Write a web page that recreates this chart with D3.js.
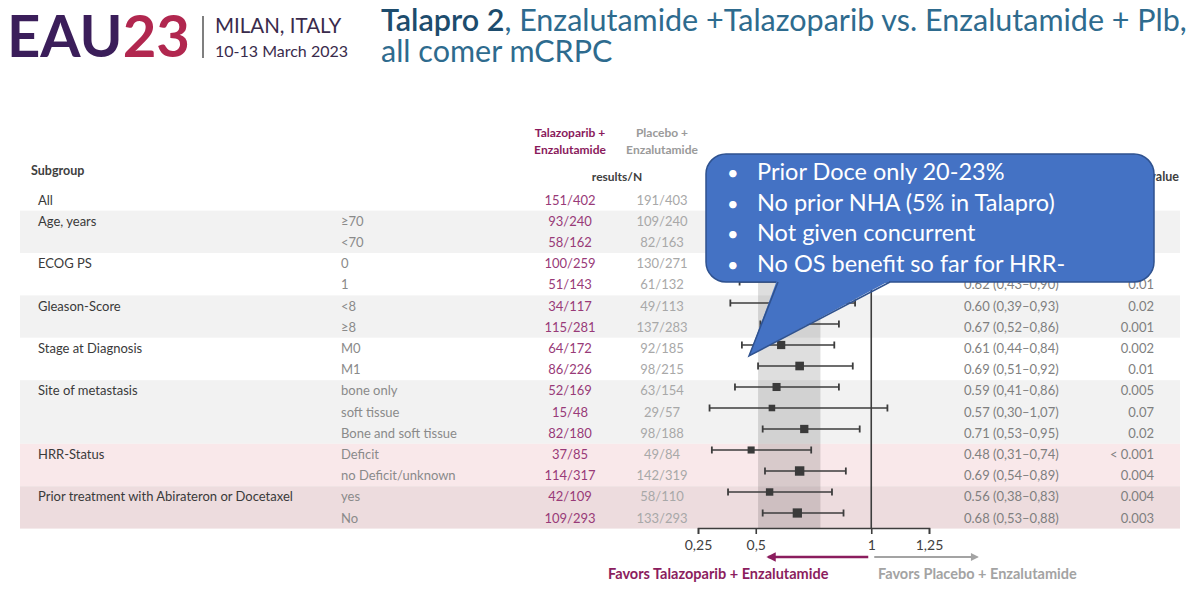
<!DOCTYPE html>
<html><head><meta charset="utf-8">
<script src="https://cdn.jsdelivr.net/npm/d3@7"></script>
<style>
html,body{margin:0;padding:0;background:#fff;}
svg{display:block;font-family:Lato,"Open Sans",sans-serif;}
</style></head>
<body>
<svg id="c" width="1200" height="597"></svg>
<script>
// ---------- data ----------
const groupLabels = ["All","Age, years","","ECOG PS","","Gleason-Score","","Stage at Diagnosis","","Site of metastasis","","","HRR-Status","","Prior treatment with Abirateron or Docetaxel",""];
const subLabels = ["","≥70","<70","0","1","<8","≥8","M0","M1","bone only","soft tissue","Bone and soft tissue","Deficit","no Deficit/unknown","yes","No"];
const talaEvents = [151,93,58,100,51,34,115,64,86,52,15,82,37,114,42,109];
const talaN = [402,240,162,259,143,117,281,172,226,169,48,180,85,317,109,293];
const plbEvents = [191,109,82,130,61,49,137,92,98,63,29,98,49,142,58,133];
const plbN = [403,240,163,271,132,113,283,185,215,154,57,188,84,319,110,293];
const hr = [0.63,0.76,0.51,0.63,0.62,0.60,0.67,0.61,0.69,0.59,0.57,0.71,0.48,0.69,0.56,0.68];
const ciLow = [0.51,0.58,0.36,0.49,0.43,0.39,0.52,0.44,0.51,0.41,0.30,0.53,0.31,0.54,0.38,0.53];
const ciHigh = [0.78,0.99,0.71,0.81,0.90,0.93,0.86,0.84,0.92,0.86,1.07,0.95,0.74,0.89,0.83,0.88];
const pValues = ["< 0.001","0.04","< 0.001","< 0.001","0.01","0.02","0.001","0.002","0.01","0.005","0.07","0.02","< 0.001","0.004","0.004","0.003"];
const rowGroup = [0,1,1,2,2,3,3,4,4,5,5,5,6,6,7,7];
const groupColors = ["#ffffff","#f2f2f2","#ffffff","#f2f2f2","#ffffff","#f2f2f2","#f9e8ea","#eddcde"];
const overallCI = [0.51,0.78];
const axisTicks = [0.25,0.5,1,1.25];
const calloutLines = ["Prior Doce only 20-23%","No prior NHA (5% in Talapro)","Not given concurrent","No OS benefit so far for HRR-"];

// ---------- setup ----------
const svg = d3.select("#c");
const idx = d3.range(talaN.length);
const yText = d3.scalePoint().domain(idx).range([200,518]);
const yMark = d3.scalePoint().domain(idx).range([198,513]);
const step = yText.step();
const x = d3.scaleLinear().domain([0.25,1.25]).range([698,929]);
const comma = v => String(v).replace(".", ",");
const f2 = v => v.toFixed(2);

// ---------- header: logo ----------
const logo = svg.append("g");
const eau = logo.append("text").attr("x",7).attr("y",57).attr("font-size",58).attr("font-weight",700)
  .attr("font-family","Lato, sans-serif");
eau.append("tspan").attr("fill","#3b1e5a").text("EAU");
eau.append("tspan").attr("fill","#b1274f").text("23");
logo.append("line").attr("x1",203).attr("x2",203).attr("y1",16).attr("y2",58).attr("stroke","#555").attr("stroke-width",1.5);
logo.append("text").attr("x",215).attr("y",33).attr("font-size",20.5).attr("fill","#3a2b4c").text("MILAN, ITALY");
logo.append("text").attr("x",215).attr("y",57).attr("font-size",16).attr("fill","#3a2b4c").text("10-13 March 2023");

// ---------- title ----------
const t1 = svg.append("text").attr("x",381).attr("y",31).attr("font-size",30.5);
t1.append("tspan").attr("fill","#1d4c6d").attr("font-weight",600).text("Talapro 2");
t1.append("tspan").attr("fill","#2e6b8e").text(", Enzalutamide +Talazoparib vs. Enzalutamide + Plb,");
svg.append("text").attr("x",381).attr("y",62).attr("font-size",30.5).attr("fill","#2e6b8e").text("all comer mCRPC");

// ---------- row bands ----------
const groups = d3.groups(idx, i => rowGroup[i]);
svg.append("g").selectAll("rect").data(groups).join("rect")
  .attr("x",20).attr("width",1160)
  .attr("y", d => yText(d[1][0]) - step/2)
  .attr("height", d => d[1].length*step)
  .attr("fill", d => groupColors[d[0]]);

// ---------- column headers ----------
const hdr = svg.append("g").attr("font-size",12).attr("font-weight",700).attr("text-anchor","middle");
hdr.append("text").attr("x",570).attr("y",137).attr("fill","#8a1a5c").text("Talazoparib +");
hdr.append("text").attr("x",570).attr("y",154).attr("fill","#8a1a5c").text("Enzalutamide");
hdr.append("text").attr("x",662).attr("y",137).attr("fill","#9a9a9a").text("Placebo +");
hdr.append("text").attr("x",662).attr("y",154).attr("fill","#9a9a9a").text("Enzalutamide");
hdr.append("text").attr("x",617).attr("y",181).attr("fill","#404040").text("results/N");
svg.append("text").attr("x",31).attr("y",175).attr("font-size",12.5).attr("font-weight",700).attr("fill","#404040").text("Subgroup");
svg.append("text").attr("x",964).attr("y",181).attr("font-size",12.5).attr("font-weight",700).attr("fill","#404040").text("HR (95% CI)");
svg.append("text").attr("x",1179).attr("y",181).attr("font-size",12.5).attr("font-weight",700).attr("text-anchor","end").attr("fill","#404040").text("P value");

// ---------- table text ----------
const rows = svg.append("g").selectAll("g").data(idx).join("g")
  .attr("transform", i => `translate(0,${yText(i)})`).attr("font-size",13);
rows.append("text").attr("x",38).attr("dy","0.35em").attr("fill","#3a3a3a").text(i => groupLabels[i]);
rows.append("text").attr("x",341).attr("dy","0.35em").attr("fill","#8a8a8a").text(i => subLabels[i]);
rows.append("text").attr("x",570).attr("dy","0.35em").attr("text-anchor","middle").attr("fill","#983a78")
  .text(i => `${talaEvents[i]}/${talaN[i]}`);
rows.append("text").attr("x",662).attr("dy","0.35em").attr("text-anchor","middle").attr("fill","#a8a8a8")
  .text(i => `${plbEvents[i]}/${plbN[i]}`);
rows.append("text").attr("x",964).attr("dy","0.35em").attr("fill","#7f7f7f")
  .text(i => `${f2(hr[i])} (${comma(f2(ciLow[i]))}\u2013${comma(f2(ciHigh[i]))})`);
rows.append("text").attr("x",1154).attr("dy","0.35em").attr("text-anchor","end").attr("fill","#7f7f7f")
  .text(i => pValues[i]);

// ---------- forest ----------
const yTop = yText(0) - step/2, yBottom = 528;
svg.append("rect").attr("x",x(overallCI[0])).attr("width",x(overallCI[1])-x(overallCI[0]))
  .attr("y",yTop).attr("height",yBottom-yTop).attr("fill","#000").attr("fill-opacity",0.13);
svg.append("line").attr("x1",x(1)).attr("x2",x(1)).attr("y1",yTop).attr("y2",yBottom)
  .attr("stroke","#3d3d3d").attr("stroke-width",1.6);

const sizeS = d3.scaleSqrt().domain([100,650]).range([6.5,9.5]);
const fr = svg.append("g").selectAll("g").data(idx).join("g")
  .attr("transform", i => `translate(0,${yMark(i)})`);
fr.append("line").attr("x1",i=>x(ciLow[i])).attr("x2",i=>x(ciHigh[i])).attr("stroke","#3d3d3d").attr("stroke-width",1.6);
fr.append("line").attr("x1",i=>x(ciLow[i])).attr("x2",i=>x(ciLow[i])).attr("y1",-3.5).attr("y2",3.5).attr("stroke","#3d3d3d").attr("stroke-width",1.8);
fr.append("line").attr("x1",i=>x(ciHigh[i])).attr("x2",i=>x(ciHigh[i])).attr("y1",-3.5).attr("y2",3.5).attr("stroke","#3d3d3d").attr("stroke-width",1.8);
fr.append("rect").attr("x",i=>x(hr[i])-sizeS(talaN[i]+plbN[i])/2).attr("y",i=>-sizeS(talaN[i]+plbN[i])/2)
  .attr("width",i=>sizeS(talaN[i]+plbN[i])).attr("height",i=>sizeS(talaN[i]+plbN[i])).attr("fill","#3a3a3a");

// ---------- axis ----------
const ax = svg.append("g").attr("transform",`translate(0,${yBottom})`)
  .call(d3.axisBottom(x).tickValues(axisTicks).tickSizeOuter(0).tickSize(6).tickPadding(6).tickFormat(d => comma(d)));
ax.select(".domain").attr("stroke","#3d3d3d").attr("stroke-width",1.6);
ax.selectAll(".tick line").attr("stroke","#3d3d3d").attr("stroke-width",1.6);
ax.selectAll(".tick text").attr("font-size",14).attr("fill","#404040").attr("font-family","Lato, sans-serif");

// ---------- favors arrows ----------
const defs = svg.append("defs");
function mk(id,color){
  defs.append("marker").attr("id",id).attr("viewBox","0 0 10 10").attr("refX",8).attr("refY",5)
    .attr("markerWidth",4.5).attr("markerHeight",3.6).attr("orient","auto-start-reverse")
    .append("path").attr("d","M0,0L10,5L0,10z").attr("fill",color);
}
mk("am","#8b1d5e"); mk("ag","#a3a3a3");
const ay = 557;
svg.append("line").attr("x1",x(1)-3).attr("x2",x(1)-103).attr("y1",ay).attr("y2",ay)
  .attr("stroke","#8b1d5e").attr("stroke-width",2.6).attr("marker-end","url(#am)");
svg.append("line").attr("x1",x(1)+3).attr("x2",x(1)+106).attr("y1",ay).attr("y2",ay)
  .attr("stroke","#a3a3a3").attr("stroke-width",2.2).attr("marker-end","url(#ag)");
svg.append("text").attr("x",608).attr("y",579).attr("font-size",14.5).attr("font-weight",700).attr("fill","#8b1d5e")
  .text("Favors Talazoparib + Enzalutamide");
svg.append("text").attr("x",878).attr("y",579).attr("font-size",14.5).attr("font-weight",700).attr("fill","#a3a3a3")
  .text("Favors Placebo + Enzalutamide");

// ---------- callout ----------
const co = svg.append("g");
co.append("rect").attr("x",706).attr("y",154).attr("width",448).attr("height",128).attr("rx",20)
  .attr("fill","#4472c4").attr("stroke","#2f528f").attr("stroke-width",1.5);
co.append("path").attr("d","M777,280L749,356L891,280Z").attr("fill","#4472c4");
co.append("path").attr("d","M778,282L749,356L890,282").attr("fill","none").attr("stroke","#2f528f").attr("stroke-width",1.5);
co.append("path").attr("d","M779,280L889,280").attr("stroke","#4472c4").attr("stroke-width",4);
const cl = co.selectAll("g").data(calloutLines).join("g")
  .attr("transform",(d,i)=>`translate(0,${180 + i*30.7})`).attr("fill","#fff").attr("font-size",23.5);
cl.append("text").attr("x",727).attr("font-size",20).text("\u2022");
cl.append("text").attr("x",757).text(d=>d);
</script>
</body></html>
